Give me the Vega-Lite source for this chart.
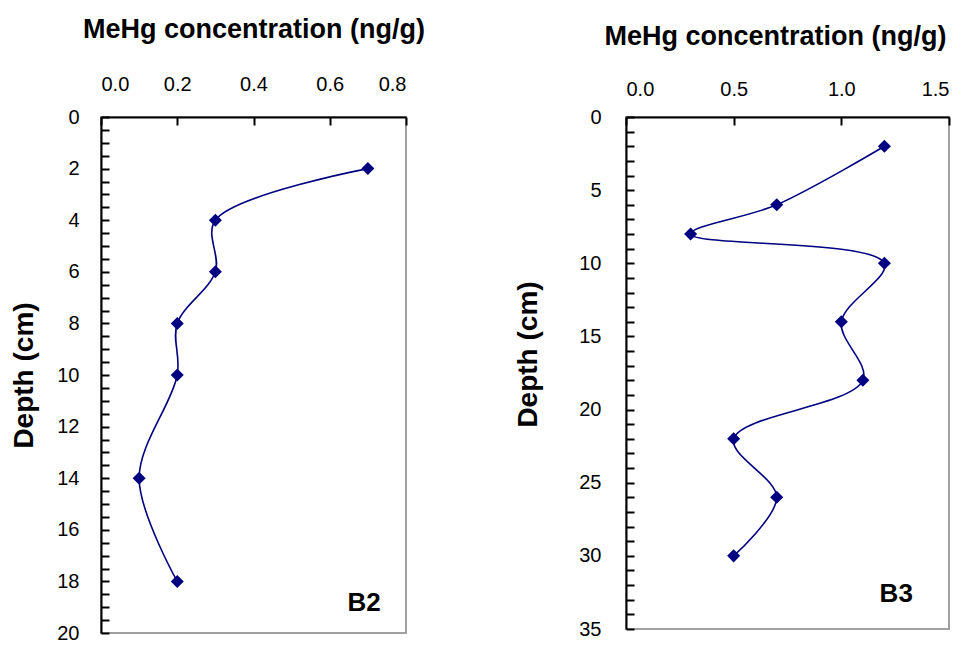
{
  "$schema": "https://vega.github.io/schema/vega-lite/v6.json",
  "background": "white",
  "padding": {"left": 9, "top": 14, "right": 10, "bottom": 5},
  "spacing": 87,
  "config": {
    "font": "Liberation Sans",
    "view": {"stroke": "#a0a0a0", "strokeWidth": 2},
    "axis": {
      "grid": false,
      "domainColor": "black",
      "domainWidth": 2,
      "tickColor": "black",
      "tickWidth": 2,
      "tickSize": -8,
      "tickCount": 100,
      "labelOverlap": false,
      "labelBound": false,
      "labelFontSize": 20,
      "labelColor": "black",
      "labelFont": "Liberation Sans",
      "titleFont": "Liberation Sans",
      "titleFontSize": 27,
      "titleFontWeight": "bold",
      "titleColor": "black"
    }
  },
  "hconcat": [
    {
      "width": 305,
      "height": 516,
      "data": {"values": [
        {"conc": 0.7, "depth": 2},
        {"conc": 0.3, "depth": 4},
        {"conc": 0.3, "depth": 6},
        {"conc": 0.2, "depth": 8},
        {"conc": 0.2, "depth": 10},
        {"conc": 0.1, "depth": 14},
        {"conc": 0.2, "depth": 18}
      ]},
      "layer": [
        {
          "mark": {"type": "line", "interpolate": "catmull-rom", "color": "#000080", "strokeWidth": 1.6},
          "encoding": {
            "x": {"field": "conc", "type": "quantitative", "scale": {"domain": [0, 0.8], "nice": false, "zero": false},
              "axis": {"orient": "top", "values": [0, 0.2, 0.4, 0.6, 0.8], "format": ".1f", "title": "MeHg concentration (ng/g)", "labelPadding": 31, "titlePadding": 31}},
            "y": {"field": "depth", "type": "quantitative", "scale": {"domain": [0, 20], "reverse": true, "nice": false},
              "axis": {"values": [0,0.5,1,1.5,2,2.5,3,3.5,4,4.5,5,5.5,6,6.5,7,7.5,8,8.5,9,9.5,10,10.5,11,11.5,12,12.5,13,13.5,14,14.5,15,15.5,16,16.5,17,17.5,18,18.5,19,19.5,20],
                "labelExpr": "datum.value % 2 === 0 ? format(datum.value, 'd') : ''", "title": "Depth (cm)", "titleFontSize": 28, "labelPadding": 30, "titlePadding": 18}},
            "order": {"field": "depth", "type": "quantitative"}
          }
        },
        {
          "mark": {"type": "point", "shape": "diamond", "filled": true, "size": 170, "color": "#000080", "opacity": 1},
          "encoding": {
            "x": {"field": "conc", "type": "quantitative"},
            "y": {"field": "depth", "type": "quantitative"}
          }
        },
        {
          "data": {"values": [{"conc": 0.69, "depth": 18.85, "label": "B2"}]},
          "mark": {"type": "text", "fontSize": 26, "fontWeight": "bold", "font": "Liberation Sans", "color": "black", "align": "center", "baseline": "middle"},
          "encoding": {
            "x": {"field": "conc", "type": "quantitative"},
            "y": {"field": "depth", "type": "quantitative"},
            "text": {"field": "label"}
          }
        }
      ]
    },
    {
      "width": 323,
      "height": 512,
      "data": {"values": [
        {"conc": 1.2, "depth": 2},
        {"conc": 0.7, "depth": 6},
        {"conc": 0.3, "depth": 8},
        {"conc": 1.2, "depth": 10},
        {"conc": 1.0, "depth": 14},
        {"conc": 1.1, "depth": 18},
        {"conc": 0.5, "depth": 22},
        {"conc": 0.7, "depth": 26},
        {"conc": 0.5, "depth": 30}
      ]},
      "layer": [
        {
          "mark": {"type": "line", "interpolate": "catmull-rom", "color": "#000080", "strokeWidth": 1.6},
          "encoding": {
            "x": {"field": "conc", "type": "quantitative", "scale": {"domain": [0, 1.5], "nice": false, "zero": false},
              "axis": {"orient": "top", "values": [0, 0.5, 1, 1.5], "format": ".1f", "title": "MeHg concentration (ng/g)", "labelPadding": 26, "titlePadding": 29, "titleX": 149}},
            "y": {"field": "depth", "type": "quantitative", "scale": {"domain": [0, 35], "reverse": true, "nice": false},
              "axis": {"values": [0,1,2,3,4,5,6,7,8,9,10,11,12,13,14,15,16,17,18,19,20,21,22,23,24,25,26,27,28,29,30,31,32,33,34,35],
                "labelExpr": "datum.value % 5 === 0 ? format(datum.value, 'd') : ''", "title": "Depth (cm)", "titleFontSize": 28, "titleY": 237, "labelPadding": 33, "titlePadding": 36}},
            "order": {"field": "depth", "type": "quantitative"}
          }
        },
        {
          "mark": {"type": "point", "shape": "diamond", "filled": true, "size": 170, "color": "#000080", "opacity": 1},
          "encoding": {
            "x": {"field": "conc", "type": "quantitative"},
            "y": {"field": "depth", "type": "quantitative"}
          }
        },
        {
          "data": {"values": [{"conc": 1.255, "depth": 32.6, "label": "B3"}]},
          "mark": {"type": "text", "fontSize": 26, "fontWeight": "bold", "font": "Liberation Sans", "color": "black", "align": "center", "baseline": "middle"},
          "encoding": {
            "x": {"field": "conc", "type": "quantitative"},
            "y": {"field": "depth", "type": "quantitative"},
            "text": {"field": "label"}
          }
        }
      ]
    }
  ]
}
